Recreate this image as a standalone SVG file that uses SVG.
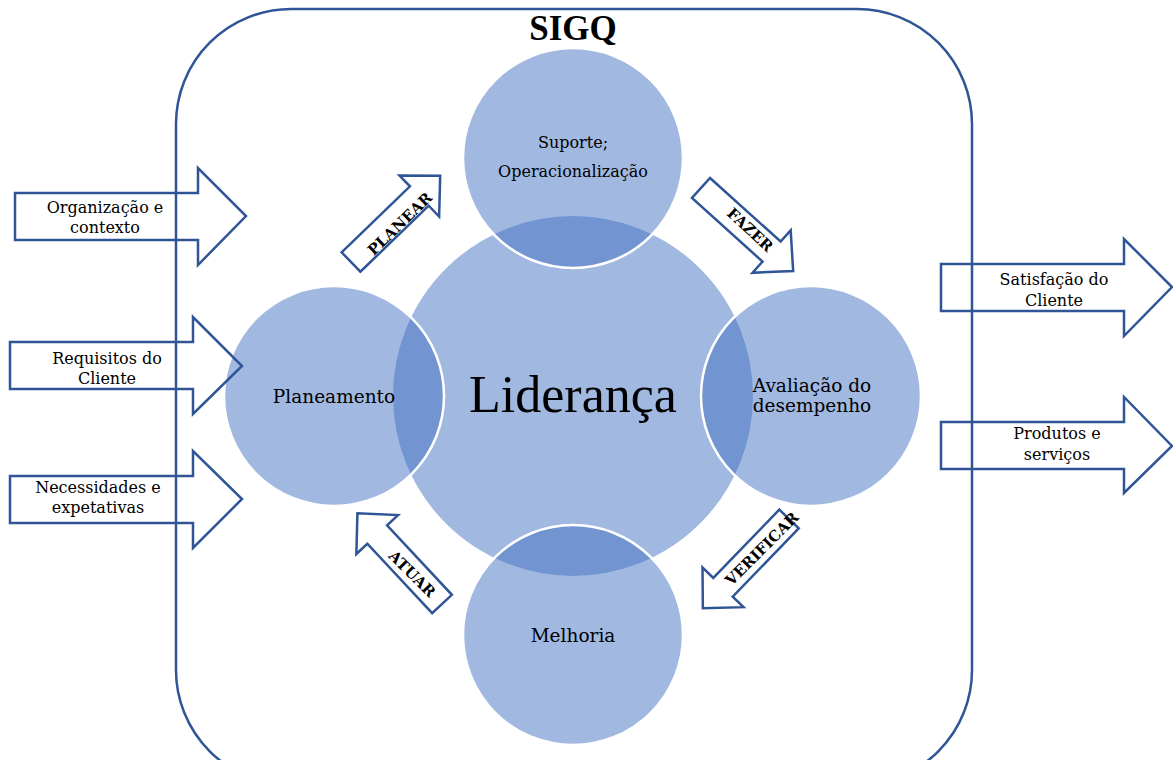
<svg xmlns="http://www.w3.org/2000/svg" width="1173" height="760" viewBox="0 0 1173 760">
<style>
.frame{fill:none;stroke:#2F5597;stroke-width:2.5}
.big{fill:#4472C4;fill-opacity:0.5;stroke:#fff;stroke-width:2}
.sm{fill:#4472C4;fill-opacity:0.5;stroke:#fff;stroke-width:2.5}
.io{fill:none;stroke:#2F5597;stroke-width:2.5;stroke-linejoin:miter}
.cyc{fill:#fff;stroke:#2F5597;stroke-width:2.5;stroke-linejoin:miter}
.lbl{font-family:"DejaVu Serif",serif;fill:#000;text-anchor:middle}
.c16{font-size:16px}
.c18{font-size:18.5px}
.cl{font-family:"DejaVu Serif",serif;font-weight:bold;font-size:15px;text-anchor:middle;dominant-baseline:central}
</style>
<defs>
<polygon id="cycArrow" points="0,-13.5 95,-13.5 95,-28.5 124,0 95,28.5 95,13.5 0,13.5"/>
</defs>
<rect width="1173" height="760" fill="#fff"/>
<g id="frame">
<rect class="frame" x="176" y="9" width="796" height="776" rx="115" ry="115"/>
<text x="573" y="40" font-family="Liberation Serif,serif" font-weight="bold" font-size="35" text-anchor="middle">SIGQ</text>
</g>
<g id="lideranca">
<circle class="big" cx="573" cy="396" r="181"/>
<text x="573" y="412" font-family="Liberation Serif,serif" font-size="52" text-anchor="middle">Liderança</text>
</g>
<g id="suporte">
<circle class="sm" cx="573" cy="158" r="110"/>
<text class="lbl c16" x="573" y="148">Suporte;</text>
<text class="lbl c16" x="573" y="177">Operacionalização</text>
</g>
<g id="planeamento">
<circle class="sm" cx="334" cy="396" r="110"/>
<text class="lbl c18" x="334" y="403">Planeamento</text>
</g>
<g id="avaliacao">
<circle class="sm" cx="811" cy="396" r="110"/>
<text class="lbl c18" x="812" y="392">Avaliação do</text>
<text class="lbl c18" x="812" y="412">desempenho</text>
</g>
<g id="melhoria">
<circle class="sm" cx="573" cy="635" r="110"/>
<text class="lbl c18" x="573" y="642">Melhoria</text>
</g>
<g id="connectors">
<g id="planear">
<use href="#cycArrow" class="cyc" transform="translate(351,262) rotate(-44)"/>
<text class="cl" transform="translate(400,224) rotate(-44)">PLANEAR</text>
</g>
<g id="fazer">
<use href="#cycArrow" class="cyc" transform="translate(701,188) rotate(42)"/>
<text class="cl" transform="translate(750,230) rotate(43)">FAZER</text>
</g>
<g id="verificar">
<use href="#cycArrow" class="cyc" transform="translate(789,519) rotate(134)"/>
<text class="cl" transform="translate(762,549) rotate(-45)">VERIFICAR</text>
</g>
<g id="atuar">
<use href="#cycArrow" class="cyc" transform="translate(442,604) rotate(-133)"/>
<text class="cl" transform="translate(412,574) rotate(45)">ATUAR</text>
</g>
</g>
<g id="in-organizacao">
<polygon class="io" points="15,193 198,193 198,168 246,216 198,265 198,240 15,240"/>
<text class="lbl c16" x="105" y="213">Organização e</text>
<text class="lbl c16" x="105" y="233">contexto</text>
</g>
<g id="in-requisitos">
<polygon class="io" points="10,342 193,342 193,317 242,366 193,414 193,389 10,389"/>
<text class="lbl c16" x="107" y="364">Requisitos do</text>
<text class="lbl c16" x="107" y="384">Cliente</text>
</g>
<g id="in-necessidades">
<polygon class="io" points="10,476 193,476 193,451 242,499 193,548 193,523 10,523"/>
<text class="lbl c16" x="98" y="493">Necessidades e</text>
<text class="lbl c16" x="98" y="513">expetativas</text>
</g>
<g id="out-satisfacao">
<polygon class="io" points="941,264 1124,264 1124,239 1172,287 1124,336 1124,311 941,311"/>
<text class="lbl c16" x="1054" y="285">Satisfação do</text>
<text class="lbl c16" x="1054" y="306">Cliente</text>
</g>
<g id="out-produtos">
<polygon class="io" points="941,422 1124,422 1124,397 1172,446 1124,493 1124,469 941,469"/>
<text class="lbl c16" x="1057" y="439">Produtos e</text>
<text class="lbl c16" x="1057" y="460">serviços</text>
</g>
</svg>
